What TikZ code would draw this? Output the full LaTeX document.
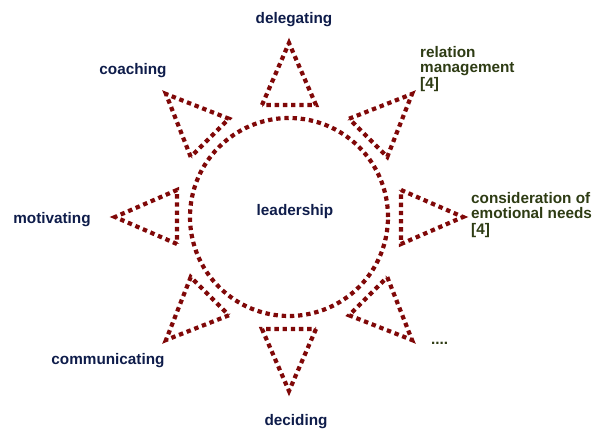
\documentclass[tikz,border=0pt]{standalone}
\usepackage{fontspec}
\setmainfont{Liberation Sans}
\definecolor{raycol}{RGB}{128,8,8}
\definecolor{navytxt}{RGB}{14,28,74}
\definecolor{olivetxt}{RGB}{46,60,20}
\begin{document}
\begin{tikzpicture}[x=1pt,y=-1pt,
  ray/.style={draw=raycol, line width=4.2pt, dash pattern=on 4.4pt off 3.8pt},
  lbl/.style={font=\fontsize{15.3}{15}\selectfont\bfseries, text=navytxt, inner sep=0pt},
  rlbl/.style={font=\fontsize{15.3}{15.5}\selectfont\bfseries, text=olivetxt, inner sep=0pt, align=left, anchor=west}]
\useasboundingbox (0,0) rectangle (603,430);
\coordinate (c) at (289,217);
\node[circle, ray, minimum size=198pt, inner sep=0pt] (hub) at (c) {};
\foreach \a in {0,45,...,315}{
  \draw[ray, shift={(c)}, rotate=\a] (112,-27) -- (174,0) -- (112,27) -- cycle;
}
\node[lbl] (lead) at (295,212) {leadership};
\node[lbl] (deleg) at (294,20) {delegating};
\node[lbl] (coach) at (133,71) {coaching};
\node[lbl] (motiv) at (52,220) {motivating};
\node[lbl] (comm) at (108,361) {communicating};
\node[lbl] (decid) at (296,422) {deciding};
\node[rlbl] (rel) at (420,69) {relation\\management\\{[4]}};
\node[rlbl] (cons) at (471,215) {consideration of\\emotional needs\\{[4]}};
\node[rlbl] (dots) at (431,343) {....};
\end{tikzpicture}
\end{document}
